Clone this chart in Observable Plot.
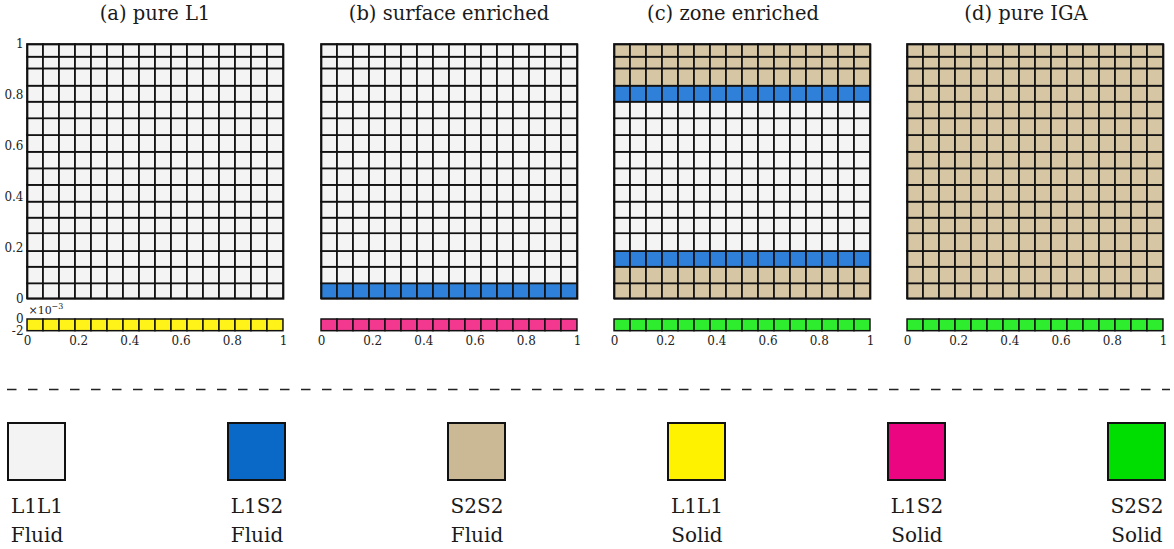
<!DOCTYPE html>
<html><head><meta charset="utf-8">
<script src="https://cdn.jsdelivr.net/npm/d3@7"></script>
<script src="https://cdn.jsdelivr.net/npm/@observablehq/plot@0.6"></script>
<style>
body{margin:0;background:#fff;}
#root{position:relative;width:1174px;height:549px;overflow:hidden;font-family:"DejaVu Serif",serif;background:#fff;}
.title{position:absolute;top:2px;font-size:19.5px;white-space:nowrap;transform:translateX(-50%);color:#1a1a1a;font-family:"DejaVu Serif",serif;}
</style></head><body><div id="root"></div>
<script>
// ---------- data ----------
const panelTitles = ["(a) pure L1", "(b) surface enriched", "(c) zone enriched", "(d) pure IGA"];
const titleCenters = [155, 449, 733, 1026];
const panelLeft = [27.3, 320.6, 613.9, 907.2];

const colEdges = [0, 0.0625, 0.125, 0.1875, 0.25, 0.3125, 0.375, 0.4375, 0.5, 0.5625, 0.625, 0.6875, 0.75, 0.8125, 0.875, 0.9375, 1];
const rowEdges = [0, 0.059, 0.124, 0.186, 0.256, 0.317, 0.380, 0.446, 0.511, 0.576, 0.642, 0.708, 0.773, 0.836, 0.904, 0.950, 1];

// row materials, bottom row first
const rowsA = ["L1L1","L1L1","L1L1","L1L1","L1L1","L1L1","L1L1","L1L1","L1L1","L1L1","L1L1","L1L1","L1L1","L1L1","L1L1","L1L1"];
const rowsB = ["L1S2","L1L1","L1L1","L1L1","L1L1","L1L1","L1L1","L1L1","L1L1","L1L1","L1L1","L1L1","L1L1","L1L1","L1L1","L1L1"];
const rowsC = ["S2S2","S2S2","L1S2","L1L1","L1L1","L1L1","L1L1","L1L1","L1L1","L1L1","L1L1","L1L1","L1S2","S2S2","S2S2","S2S2"];
const rowsD = ["S2S2","S2S2","S2S2","S2S2","S2S2","S2S2","S2S2","S2S2","S2S2","S2S2","S2S2","S2S2","S2S2","S2S2","S2S2","S2S2"];
const panelRows = [rowsA, rowsB, rowsC, rowsD];
const stripMaterial = ["L1L1", "L1S2", "S2S2", "S2S2"];

const materials = ["L1L1", "L1S2", "S2S2"];
const meshColors = ["#f4f4f4", "#2e80d8", "#d6c6a3"];
const stripColors = ["#fff31a", "#f2388f", "#2eec2e"];

const meshYTicks = [0, 0.2, 0.4, 0.6, 0.8, 1];
const stripXTicks = [0, 0.2, 0.4, 0.6, 0.8, 1];
const stripYTicks = [-2e-3, 0];
const stripExponentBase = "×10";
const stripExponentPower = "−3";

const legendKeys = ["L1L1 Fluid", "L1S2 Fluid", "S2S2 Fluid", "L1L1 Solid", "L1S2 Solid", "S2S2 Solid"];
const legendCodes = ["L1L1", "L1S2", "S2S2", "L1L1", "L1S2", "S2S2"];
const legendStates = ["Fluid", "Fluid", "Fluid", "Solid", "Solid", "Solid"];
const legendColors = ["#f3f3f3", "#0a68c6", "#cbb995", "#fff200", "#ec0580", "#00dd00"];

// ---------- layout ----------
const root = document.getElementById("root");
const FONT = "DejaVu Serif";
const frameW = 256, frameH = 254.3, meshTop = 44;
const mL = 30, mR = 4, mT = 4, mB = 4;
const stripTop = 319.3, stripH = 11.7, sT = 16, sB = 22;

function place(node, left, top) {
  node.style.position = "absolute";
  node.style.left = left + "px";
  node.style.top = top + "px";
  root.appendChild(node);
}

panelTitles.forEach((t, i) => {
  const d = document.createElement("div");
  d.className = "title";
  d.textContent = t;
  d.style.left = titleCenters[i] + "px";
  root.appendChild(d);
});

panelRows.forEach((rows, p) => {
  const cells = [];
  rows.forEach((m, i) => {
    for (let j = 0; j < colEdges.length - 1; j++) {
      cells.push({x1: colEdges[j], x2: colEdges[j + 1], y1: rowEdges[i], y2: rowEdges[i + 1], type: m});
    }
  });
  const mesh = Plot.plot({
    width: frameW + mL + mR,
    height: frameH + mT + mB,
    marginLeft: mL, marginRight: mR, marginTop: mT, marginBottom: mB,
    style: {fontFamily: FONT, fontSize: "12px", color: "#222", background: "transparent", overflow: "visible"},
    x: {domain: [0, 1], axis: null},
    y: {domain: [0, 1], axis: p === 0 ? "left" : null, ticks: meshYTicks, tickSize: 0, tickPadding: 4, tickFormat: d => String(d), label: null},
    color: {type: "ordinal", domain: materials, range: meshColors},
    marks: [
      Plot.rect(cells, {x1: "x1", x2: "x2", y1: "y1", y2: "y2", fill: "type", stroke: "#111", strokeWidth: 1.7}),
      Plot.frame({stroke: "#111", strokeWidth: 1.7})
    ]
  });
  place(mesh, panelLeft[p] - mL, meshTop - mT);

  const strip = [];
  for (let j = 0; j < colEdges.length - 1; j++) {
    strip.push({x1: colEdges[j], x2: colEdges[j + 1], y1: stripYTicks[0], y2: stripYTicks[1], type: stripMaterial[p]});
  }
  const marks = [
    Plot.rect(strip, {x1: "x1", x2: "x2", y1: "y1", y2: "y2", fill: "type", stroke: "#111", strokeWidth: 1.5})
  ];
  if (p === 0) {
    marks.push(Plot.text([stripExponentBase], {x: () => 0, y: () => 0, text: d => d, textAnchor: "start", dy: -9, dx: 1, fontSize: 11, fill: "#222"}));
    marks.push(Plot.text([stripExponentPower], {x: () => 0, y: () => 0, text: d => d, textAnchor: "start", dy: -13, dx: 24, fontSize: 8, fill: "#222"}));
  }
  const sp = Plot.plot({
    width: frameW + mL + mR,
    height: stripH + sT + sB,
    marginLeft: mL, marginRight: mR, marginTop: sT, marginBottom: sB,
    style: {fontFamily: FONT, fontSize: "12px", color: "#222", background: "transparent", overflow: "visible"},
    x: {domain: [0, 1], ticks: stripXTicks, tickSize: 0, tickPadding: 5, tickFormat: d => String(d), label: null},
    y: {domain: [stripYTicks[0], stripYTicks[1]], axis: p === 0 ? "left" : null, ticks: stripYTicks, tickSize: 0, tickPadding: 4, tickFormat: d => String(Math.round(d * 1000)), label: null},
    color: {type: "ordinal", domain: materials, range: stripColors},
    marks
  });
  place(sp, panelLeft[p] - mL, stripTop - sT);
});

// dashed separator
const sep = Plot.plot({
  width: 1174, height: 8, marginLeft: 7, marginRight: 4, marginTop: 0, marginBottom: 0,
  style: {background: "transparent"},
  x: {axis: null}, y: {domain: [0, 1], axis: null},
  marks: [Plot.ruleY([0.5], {stroke: "#222", strokeWidth: 1.3, strokeDasharray: "9.5,11.5"})]
});
place(sep, 0, 385);

// legend
const legendItems = legendKeys.map((k, i) => ({key: k, code: legendCodes[i], state: legendStates[i]}));
const leg = Plot.plot({
  width: 1174, height: 169, marginLeft: 8, marginRight: 9, marginTop: 0, marginBottom: 0,
  style: {fontFamily: FONT, fontSize: "20px", color: "#1a1a1a", background: "transparent", overflow: "visible"},
  x: {type: "band", domain: legendKeys, paddingInner: 0.741, paddingOuter: 0, axis: null},
  y: {type: "band", domain: ["swatch"], range: [43, 100], padding: 0, axis: null},
  color: {type: "ordinal", domain: legendKeys, range: legendColors},
  marks: [
    Plot.cell(legendItems, {x: "key", y: () => "swatch", fill: "key", stroke: "#111", strokeWidth: 2, inset: 0}),
    Plot.text(legendItems, {x: "key", y: () => "swatch", text: d => d.code + "\n" + d.state, lineAnchor: "top", dy: 41, lineHeight: 1.43, fontSize: 20, fill: "#1a1a1a"})
  ]
});
place(leg, 0, 380);
</script></body></html>
